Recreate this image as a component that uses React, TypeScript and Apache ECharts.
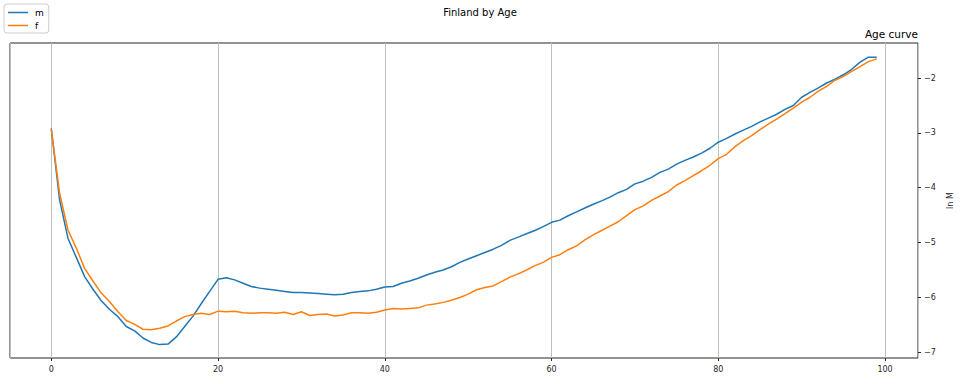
import React, { useEffect, useRef } from "react";
import * as echarts from "echarts";

const ages: number[] = Array.from({ length: 100 }, (_, i) => i);

const male: number[] = [
  -2.92, -4.22, -4.92, -5.27, -5.62, -5.85, -6.06, -6.22, -6.35, -6.53,
  -6.61, -6.74, -6.82, -6.86, -6.85, -6.72, -6.53, -6.34, -6.11, -5.89,
  -5.67, -5.64, -5.68, -5.74, -5.80, -5.83, -5.85, -5.87, -5.89, -5.91,
  -5.91, -5.92, -5.93, -5.94, -5.95, -5.94, -5.91, -5.89, -5.88, -5.85,
  -5.81, -5.80, -5.74, -5.70, -5.65, -5.59, -5.54, -5.50, -5.44, -5.36,
  -5.30, -5.24, -5.18, -5.12, -5.05, -4.96, -4.90, -4.84, -4.78, -4.71,
  -4.63, -4.59, -4.51, -4.44, -4.37, -4.30, -4.24, -4.17, -4.09, -4.03,
  -3.93, -3.88, -3.81, -3.72, -3.66, -3.57, -3.50, -3.44, -3.37, -3.28,
  -3.17, -3.10, -3.02, -2.95, -2.88, -2.80, -2.73, -2.66, -2.57, -2.50,
  -2.35, -2.26, -2.18, -2.09, -2.02, -1.94, -1.84, -1.71, -1.62, -1.62,
];

const female: number[] = [
  -2.93, -4.10, -4.77, -5.10, -5.47, -5.70, -5.92, -6.08, -6.26, -6.42,
  -6.49, -6.58, -6.59, -6.56, -6.52, -6.43, -6.35, -6.31, -6.29, -6.31,
  -6.25, -6.26, -6.25, -6.28, -6.29, -6.28, -6.28, -6.29, -6.27, -6.31,
  -6.26, -6.33, -6.31, -6.30, -6.34, -6.32, -6.28, -6.28, -6.29, -6.27,
  -6.23, -6.20, -6.21, -6.20, -6.19, -6.14, -6.12, -6.09, -6.05, -6.00,
  -5.94, -5.86, -5.82, -5.79, -5.71, -5.63, -5.57, -5.50, -5.42, -5.36,
  -5.27, -5.22, -5.13, -5.06, -4.95, -4.86, -4.78, -4.70, -4.62, -4.51,
  -4.40, -4.33, -4.23, -4.15, -4.07, -3.95, -3.87, -3.78, -3.69, -3.59,
  -3.47, -3.39, -3.25, -3.14, -3.05, -2.94, -2.84, -2.75, -2.65, -2.55,
  -2.44, -2.35, -2.24, -2.15, -2.04, -1.97, -1.88, -1.79, -1.70, -1.65,
];

const seriesNames = ["m", "f"];
const colors = ["#1f77b4", "#ff7f0e"];
const xRange = [-4.95, 103.95];
const yRange = [-7.104, -1.361];

const FONT = "DejaVu Sans";
const fmtNum = (v: number) => (v < 0 ? "\u2212" + Math.abs(v) : String(v));

export default function App() {
  const ref = useRef<HTMLDivElement>(null);
  useEffect(() => {
    if (!ref.current) return;
    const chart = echarts.init(ref.current, undefined, { renderer: "svg" });
    chart.setOption({
      animation: false,
      backgroundColor: "#ffffff",
      textStyle: { fontFamily: FONT },
      title: [
        {
          text: "Finland by Age",
          left: "center",
          top: 2,
          textStyle: { fontFamily: FONT, fontSize: 10, fontWeight: "normal", color: "#000" },
        },
        {
          text: "Age curve",
          right: 37,
          top: 23,
          textStyle: { fontFamily: FONT, fontSize: 10.5, fontWeight: "normal", color: "#000" },
        },
      ],
      legend: {
        orient: "vertical",
        left: 4,
        top: 4,
        padding: [4, 5, 3, 4],
        itemGap: 4,
        itemWidth: 20,
        itemHeight: 1.5,
        borderColor: "#cccccc",
        borderWidth: 1,
        borderRadius: 3,
        icon: "rect",
        textStyle: { fontFamily: FONT, fontSize: 9, color: "#000", padding: [0, 0, 0, 2] },
        data: seriesNames,
      },
      grid: {
        left: 10,
        right: 42,
        top: 43,
        bottom: 26,
        show: true,
        borderColor: "#262626",
        borderWidth: 1,
        containLabel: false,
        outerBoundsMode: "none",
      },
      xAxis: {
        type: "value",
        min: xRange[0],
        max: xRange[1],
        splitNumber: 5,
        axisLine: { show: false, onZero: false },
        axisTick: { show: true, length: 3, lineStyle: { color: "#262626" } },
        axisLabel: {
          showMinLabel: false,
          showMaxLabel: false,
          fontFamily: FONT,
          fontSize: 8,
          color: "#262626",
          margin: 7,
          formatter: fmtNum,
        },
        splitLine: { show: true, lineStyle: { color: "#c0c0c0", width: 1 } },
      },
      yAxis: {
        type: "value",
        position: "right",
        min: yRange[0],
        max: yRange[1],
        splitNumber: 5,
        name: "ln M",
        nameLocation: "middle",
        nameGap: 24,
        nameRotate: 90,
        nameTextStyle: { fontFamily: FONT, fontSize: 8, color: "#262626" },
        axisLine: { show: false, onZero: false },
        axisTick: { show: true, length: 3, lineStyle: { color: "#262626" } },
        axisLabel: {
          showMinLabel: false,
          showMaxLabel: false,
          fontFamily: FONT,
          fontSize: 8,
          color: "#262626",
          margin: 6,
          formatter: fmtNum,
        },
        splitLine: { show: false },
      },
      series: [
        {
          name: seriesNames[0],
          type: "line",
          data: ages.map((a, i) => [a, male[i]]),
          showSymbol: false,
          symbol: "none",
          lineStyle: { color: colors[0], width: 1.5 },
          itemStyle: { color: colors[0] },
        },
        {
          name: seriesNames[1],
          type: "line",
          data: ages.map((a, i) => [a, female[i]]),
          showSymbol: false,
          symbol: "none",
          lineStyle: { color: colors[1], width: 1.5 },
          itemStyle: { color: colors[1] },
        },
      ],
    });
    return () => chart.dispose();
  }, []);
  return (
    <div
      ref={ref}
      style={{ position: "fixed", left: 0, top: 0, width: 960, height: 384, background: "#fff" }}
    />
  );
}
